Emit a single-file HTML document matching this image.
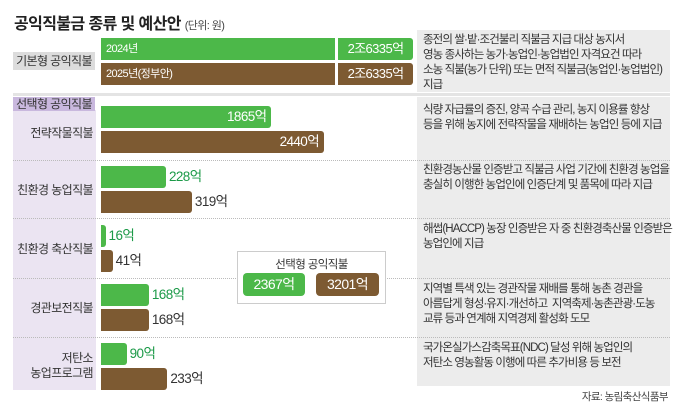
<!DOCTYPE html>
<html><head><meta charset="utf-8"><style>
body{margin:0;width:680px;height:408px;background:#fff;font-family:"Liberation Sans","Noto Sans CJK KR",sans-serif;position:relative;overflow:hidden;letter-spacing:-0.6px}
.a{position:absolute}
.desc{position:absolute;left:423px;font-size:11.5px;line-height:15px;color:#333;white-space:nowrap;letter-spacing:-0.9px}
.sep{position:absolute;left:13px;width:657px;border-top:1px dotted #bbb}
.lab{position:absolute;left:13px;width:80px;text-align:right;font-size:12px;color:#333;line-height:15px}
</style></head><body>
<div class="a" style="left:14px;top:10px;font-size:16px;font-weight:bold;color:#222">공익직불금 종류 및 예산안 <span style="font-size:11px;font-weight:normal;color:#444">(단위: 원)</span></div>
<div class="a" style="left:417px;top:30px;width:253px;height:62px;background:#ececec"></div>
<div class="a" style="left:13px;top:93px;width:657px;height:3px;background:#e4e4e4"></div>
<div class="a" style="left:417px;top:97px;width:253px;height:289px;background:#ececec"></div>
<div class="a" style="left:13px;top:110px;width:83px;height:280px;background:#ebe4f2"></div>
<div class="a" style="left:13px;top:52px;width:82px;height:18px;background:#dcdcdc;font-size:12px;text-align:center;line-height:18px;color:#333">기본형 공익직불</div>
<div class="a" style="left:13px;top:97px;width:82px;height:14px;background:#c9b8de;font-size:12px;text-align:center;line-height:14px;color:#333">선택형 공익직불</div>
<div class="sep" style="top:160px"></div>
<div class="sep" style="top:218px"></div>
<div class="sep" style="top:278px"></div>
<div class="sep" style="top:337px"></div>
<div class="a" style="left:101px;top:38px;width:234px;height:22px;background:#4cb849;color:#fff;font-size:11px;line-height:22px;padding-left:5px;box-sizing:border-box">2024년</div>
<div class="a" style="left:338px;top:38px;width:75px;height:22px;background:#4cb849;color:#fff;font-size:13px;line-height:22px;text-align:center;border-radius:0 3px 3px 0">2조6335억</div>
<div class="a" style="left:101px;top:63px;width:234px;height:22px;background:#7d5a32;color:#fff;font-size:11px;line-height:22px;padding-left:5px;box-sizing:border-box">2025년(정부안)</div>
<div class="a" style="left:338px;top:63px;width:75px;height:22px;background:#7d5a32;color:#fff;font-size:13px;line-height:22px;text-align:center;border-radius:0 3px 3px 0">2조6335억</div>
<div class="lab" style="top:126px">전략작물직불</div>
<div class="lab" style="top:183px">친환경 농업직불</div>
<div class="lab" style="top:242px">친환경 축산직불</div>
<div class="lab" style="top:301px">경관보전직불</div>
<div class="lab" style="top:351px">저탄소<br>농업프로그램</div>
<div id="bars"></div>
<div class="desc" style="top:33px">종전의 쌀·밭·조건불리 직불금 지급 대상 농지서<br>영농 종사하는 농가·농업인·농업법인 자격요건 따라<br>소농 직불(농가 단위) 또는 면적 직불금(농업인·농업법인)<br>지급</div>
<div class="desc" style="top:103px">식량 자급률의 증진, 양곡 수급 관리, 농지 이용률 향상<br>등을 위해 농지에 전략작물을 재배하는 농업인 등에 지급</div>
<div class="desc" style="top:163px">친환경농산물 인증받고 직불금 사업 기간에 친환경 농업을<br>충실히 이행한 농업인에 인증단계 및 품목에 따라 지급</div>
<div class="desc" style="top:222px">해썹(HACCP) 농장 인증받은 자 중 친환경축산물 인증받은<br>농업인에 지급</div>
<div class="desc" style="top:282px">지역별 특색 있는 경관작물 재배를 통해 농촌 경관을<br>아름답게 형성·유지·개선하고 &nbsp;지역축제·농촌관광·도농<br>교류 등과 연계해 지역경제 활성화 도모</div>
<div class="desc" style="top:341px">국가온실가스감축목표(NDC) 달성 위해 농업인의<br>저탄소 영농활동 이행에 따른 추가비용 등 보전</div>
<div class="a" style="left:237px;top:251px;width:149px;height:53px;border:1px solid #ccc;background:#fff;box-sizing:border-box"></div>
<div class="a" style="left:237px;top:256px;width:149px;text-align:center;font-size:11.5px;color:#333">선택형 공익직불</div>
<div class="a" style="left:243px;top:273px;width:62px;height:23px;background:#4cb849;border-radius:4px;color:#fff;font-size:14px;line-height:23px;text-align:center">2367억</div>
<div class="a" style="left:316px;top:273px;width:63px;height:23px;background:#7d5a32;border-radius:4px;color:#fff;font-size:14px;line-height:23px;text-align:center">3201억</div>
<div class="a" style="right:12px;top:389px;font-size:10.5px;color:#444">자료: 농림축산식품부</div>
<script>
const categories=["전략작물직불","친환경 농업직불","친환경 축산직불","경관보전직불","저탄소 농업프로그램"];
const values2024=[1865,228,16,168,90];
const values2025=[2440,319,41,168,233];
const rowTops=[106,166,225,284,343];
function xScale(v){return v>=1000? v*0.0914 : v*0.285;}
const c=document.getElementById('bars');
categories.forEach((cat,i)=>{
  [[values2024[i],'#4cb849','#1c9a48',0],[values2025[i],'#7d5a32','#333',25]].forEach(([v,col,tc,off],j)=>{
    const w=Math.max(3,xScale(v));
    const b=document.createElement('div');
    
    
    b.style.cssText=`position:absolute;left:101px;top:${rowTops[i]+off}px;width:${w}px;height:22px;background:${col};border-radius:0 3px 3px 0`;
    c.appendChild(b);
    const t=document.createElement('div');
    
    
    t.textContent=v+'억';
    if(w>120){t.style.cssText=`position:absolute;left:101px;width:${w-5}px;text-align:right;top:${rowTops[i]+off}px;line-height:22px;font-size:13.5px;color:#fff`;}
    else{t.style.cssText=`position:absolute;left:${101+w+3}px;top:${rowTops[i]+off}px;line-height:22px;font-size:13.5px;color:${tc}`;}
    c.appendChild(t);
  });
});
</script>
</body></html>
